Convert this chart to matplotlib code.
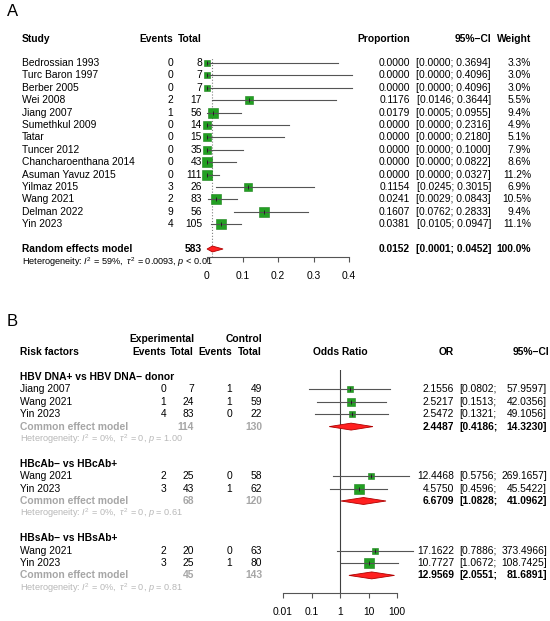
import numpy as np
import matplotlib
matplotlib.use("Agg")
import matplotlib.pyplot as plt
import matplotlib.transforms as mtransforms
from matplotlib.patches import Polygon
from matplotlib.ticker import NullLocator

plt.rcParams['font.family'] = ['Liberation Sans', 'DejaVu Sans']
plt.rcParams['mathtext.fontset'] = 'custom'
plt.rcParams['mathtext.rm'] = 'Liberation Sans'
plt.rcParams['mathtext.it'] = 'Liberation Sans:italic'
plt.rcParams['mathtext.bf'] = 'Liberation Sans:bold'

# ---------------------------------------------------------------
# data, panel A (single-arm proportions)
# ---------------------------------------------------------------
studies_a = ["Bedrossian 1993", "Turc Baron 1997", "Berber 2005", "Wei 2008",
             "Jiang 2007", "Sumethkul 2009", "Tatar", "Tuncer 2012",
             "Chancharoenthana 2014", "Asuman Yavuz 2015", "Yilmaz 2015",
             "Wang 2021", "Delman 2022", "Yin 2023"]
events_a = [0, 0, 0, 2, 1, 0, 0, 0, 0, 0, 3, 2, 9, 4]
totals_a = [8, 7, 7, 17, 56, 14, 15, 35, 43, 111, 26, 83, 56, 105]
prop_a = [0.0, 0.0, 0.0, 0.1176, 0.0179, 0.0, 0.0, 0.0, 0.0, 0.0,
          0.1154, 0.0241, 0.1607, 0.0381]
lo_a = [0.0, 0.0, 0.0, 0.0146, 0.0005, 0.0, 0.0, 0.0, 0.0, 0.0,
        0.0245, 0.0029, 0.0762, 0.0105]
hi_a = [0.3694, 0.4096, 0.4096, 0.3644, 0.0955, 0.2316, 0.2180, 0.1000,
        0.0822, 0.0327, 0.3015, 0.0843, 0.2833, 0.0947]
weight_a = [3.3, 3.0, 3.0, 5.5, 9.4, 4.9, 5.1, 7.9, 8.6, 11.2, 6.9, 10.5, 9.4, 11.1]
re_total = 583
re_est, re_lo, re_hi = 0.0152, 0.0001, 0.0452
het_a = r"Heterogeneity: $I^2$ = 59%,  $\tau^2$ = 0.0093, $p$ < 0.01"
ticks_a = [0, 0.1, 0.2, 0.3, 0.4]

# ---------------------------------------------------------------
# data, panel B (odds ratios by risk factor)
# ---------------------------------------------------------------
group_names = ["HBV DNA+ vs HBV DNA\u2212 donor", "HBcAb\u2212 vs HBcAb+",
               "HBsAb\u2212 vs HBsAb+"]
b_studies = [["Jiang 2007", "Wang 2021", "Yin 2023"],
             ["Wang 2021", "Yin 2023"],
             ["Wang 2021", "Yin 2023"]]
b_exp_events = [[0, 1, 4], [2, 3], [2, 3]]
b_exp_total = [[7, 24, 83], [25, 43], [20, 25]]
b_ctl_events = [[1, 1, 0], [0, 1], [0, 1]]
b_ctl_total = [[49, 59, 22], [58, 62], [63, 80]]
b_or = [[2.1556, 2.5217, 2.5472], [12.4468, 4.5750], [17.1622, 10.7727]]
b_lo = [[0.0802, 0.1513, 0.1321], [0.5756, 0.4596], [0.7886, 1.0672]]
b_hi = [[57.9597, 42.0356, 49.1056], [269.1657, 45.5422], [373.4966, 108.7425]]
pooled_or = [2.4487, 6.6709, 12.9569]
pooled_lo = [0.4186, 1.0828, 2.0551]
pooled_hi = [14.3230, 41.0962, 81.6891]
het_i2 = ["0%", "0%", "0%"]
het_tau2 = ["0", "0", "0"]
het_p = ["1.00", "0.61", "0.81"]
ticks_b = [0.01, 0.1, 1, 10, 100]
tick_labels_b = ["0.01", "0.1", "1", "10", "100"]

# ---------------------------------------------------------------
# layout (pixels of a 550 x 621 figure)
# ---------------------------------------------------------------
W, H = 550, 621
ROW = 12.4
FS = 7.4
FS_HET = 6.6
SQ_COL = '#22a022'
SQ_EDGE = '#1a801a'
LN_COL = '#555555'
GREY = '#a6a6a6'

fig = plt.figure(figsize=(W / 100, H / 100), dpi=100)


def add_ax(x0, x1, y0, y1):
    return fig.add_axes([x0 / W, 1 - y1 / H, (x1 - x0) / W, (y1 - y0) / H])


def fx(px):
    return px / W


def style_axis(ax):
    for s in ['top', 'left', 'right']:
        ax.spines[s].set_visible(False)
    ax.spines['bottom'].set_color(LN_COL)
    ax.spines['bottom'].set_linewidth(0.8)
    ax.set_yticks([])
    ax.tick_params(axis='x', length=3.6, width=0.8, color=LN_COL,
                   labelsize=FS, pad=6.5)
    ax.patch.set_alpha(0)


def diamond(ax, est, lo, hi, y, h):
    ax.add_patch(Polygon([(lo, y), (est, y - h), (hi, y), (est, y + h)],
                         closed=True, facecolor='#ff2020', edgecolor='#b00000',
                         linewidth=0.6, zorder=4, clip_on=False))


# ===============================================================
# panel A
# ===============================================================
rowA0 = 63
axA = add_ax(207, 349, 57, 257)
axA.set_xlim(0, 0.4)
axA.set_ylim((257 - rowA0) / ROW, (57 - rowA0) / ROW)
style_axis(axA)
axA.set_xticks(ticks_a)
axA.set_xticklabels(["0", "0.1", "0.2", "0.3", "0.4"])
trA = mtransforms.blended_transform_factory(fig.transFigure, axA.transData)

axA.axvline(re_est, color='#808080', linestyle=':', linewidth=0.8, zorder=1)

for i in range(len(studies_a)):
    side = 3.2 * np.sqrt(weight_a[i]) * 0.72
    axA.plot([lo_a[i], hi_a[i]], [i, i], color=LN_COL, linewidth=0.8,
             zorder=3, clip_on=False)
    axA.plot(prop_a[i], i, marker='s', markersize=side, color=SQ_COL,
             markeredgecolor=SQ_EDGE, markeredgewidth=0.4, zorder=2, clip_on=False)
    axA.plot(prop_a[i], i, marker='|', markersize=3.0, color='#222222',
             markeredgewidth=0.7, zorder=4, clip_on=False)
    axA.text(fx(22), i, studies_a[i], transform=trA, fontsize=FS, va='center')
    axA.text(fx(173), i, str(events_a[i]), transform=trA, fontsize=FS,
             va='center', ha='right')
    axA.text(fx(202), i, str(totals_a[i]), transform=trA, fontsize=FS,
             va='center', ha='right')
    axA.text(fx(410), i, "%.4f" % prop_a[i], transform=trA, fontsize=FS,
             va='center', ha='right')
    axA.text(fx(491), i, "[%.4f; %.4f]" % (lo_a[i], hi_a[i]), transform=trA,
             fontsize=FS, va='center', ha='right')
    axA.text(fx(531), i, "%.1f%%" % weight_a[i], transform=trA, fontsize=FS,
             va='center', ha='right')

# header
hA = (39 - rowA0) / ROW
for x, s, ha in [(22, "Study", 'left'), (173, "Events", 'right'),
                 (202, "Total", 'right'), (410, "Proportion", 'right'),
                 (491, "95%\u2212CI", 'right'), (531, "Weight", 'right')]:
    axA.text(fx(x), hA, s, transform=trA, fontsize=FS, fontweight='bold',
             va='center', ha=ha)

# pooled
yre = (249 - rowA0) / ROW
diamond(axA, re_est, re_lo, re_hi, yre, 0.24)
axA.text(fx(22), yre, "Random effects model", transform=trA, fontsize=FS,
         fontweight='bold', va='center')
axA.text(fx(202), yre, str(re_total), transform=trA, fontsize=FS,
         fontweight='bold', va='center', ha='right')
axA.text(fx(410), yre, "%.4f" % re_est, transform=trA, fontsize=FS,
         fontweight='bold', va='center', ha='right')
axA.text(fx(491), yre, "[%.4f; %.4f]" % (re_lo, re_hi), transform=trA,
         fontsize=FS, fontweight='bold', va='center', ha='right')
axA.text(fx(531), yre, "100.0%", transform=trA, fontsize=FS,
         fontweight='bold', va='center', ha='right')
axA.text(fx(22), (262 - rowA0) / ROW, het_a, transform=trA, fontsize=FS_HET,
         va='center')

fig.text(fx(7), 1 - 12 / H, "A", fontsize=12, va='center')

# ===============================================================
# panel B
# ===============================================================
rowB0 = 377
axB = add_ax(283, 397, 370, 593)
axB.set_xscale('log')
axB.set_xlim(0.01, 100)
axB.set_ylim((593 - rowB0) / ROW, (370 - rowB0) / ROW)
style_axis(axB)
axB.set_xticks(ticks_b)
axB.set_xticklabels(tick_labels_b)
axB.xaxis.set_minor_locator(NullLocator())
trB = mtransforms.blended_transform_factory(fig.transFigure, axB.transData)
axB.axvline(1, color='#404040', linewidth=0.8, zorder=1)

# header
h1 = (339 - rowB0) / ROW
h2 = (352 - rowB0) / ROW
axB.text(fx(194), h1, "Experimental", transform=trB, fontsize=FS,
         fontweight='bold', va='center', ha='right')
axB.text(fx(262), h1, "Control", transform=trB, fontsize=FS,
         fontweight='bold', va='center', ha='right')
for x, s, ha in [(20, "Risk factors", 'left'), (166, "Events", 'right'),
                 (194, "Total", 'right'), (232, "Events", 'right'),
                 (262, "Total", 'right'), (454, "OR", 'right'),
                 (549, "95%\u2212CI", 'right')]:
    axB.text(fx(x), h2, s, transform=trB, fontsize=FS, fontweight='bold',
             va='center', ha=ha)
axB.text(1, h2, "Odds Ratio", fontsize=FS, fontweight='bold', va='center',
         ha='center')

r = 0
for g in range(len(group_names)):
    axB.text(fx(20), r, group_names[g], transform=trB, fontsize=FS,
             fontweight='bold', va='center')
    n = len(b_studies[g])
    for k in range(n):
        y = r + 1 + k
        se = (np.log(b_hi[g][k]) - np.log(b_lo[g][k])) / 3.92
        w = 1.0 / se ** 2
        side = 14.5 * w * 0.72
        axB.plot([b_lo[g][k], b_hi[g][k]], [y, y], color=LN_COL,
                 linewidth=0.8, zorder=3, clip_on=False)
        axB.plot(b_or[g][k], y, marker='s', markersize=side, color=SQ_COL,
                 markeredgecolor=SQ_EDGE, markeredgewidth=0.4, zorder=2,
                 clip_on=False)
        axB.plot(b_or[g][k], y, marker='|', markersize=3.0, color='#222222',
                 markeredgewidth=0.7, zorder=4, clip_on=False)
        axB.text(fx(20), y, b_studies[g][k], transform=trB, fontsize=FS,
                 va='center')
        for x, v in [(166, b_exp_events[g][k]), (194, b_exp_total[g][k]),
                     (232, b_ctl_events[g][k]), (262, b_ctl_total[g][k])]:
            axB.text(fx(x), y, str(v), transform=trB, fontsize=FS,
                     va='center', ha='right')
        axB.text(fx(454), y, "%.4f" % b_or[g][k], transform=trB, fontsize=FS,
                 va='center', ha='right')
        axB.text(fx(459), y, "[%.4f;" % b_lo[g][k], transform=trB,
                 fontsize=FS, va='center', ha='left')
        axB.text(fx(547), y, "%.4f]" % b_hi[g][k], transform=trB,
                 fontsize=FS, va='center', ha='right')
    # common effect model
    yc = r + 1 + n
    diamond(axB, pooled_or[g], pooled_lo[g], pooled_hi[g], yc, 0.28)
    axB.text(fx(20), yc, "Common effect model", transform=trB, fontsize=FS,
             fontweight='bold', color=GREY, va='center')
    axB.text(fx(194), yc, str(sum(b_exp_total[g])), transform=trB,
             fontsize=FS, fontweight='bold', color=GREY, va='center', ha='right')
    axB.text(fx(262), yc, str(sum(b_ctl_total[g])), transform=trB,
             fontsize=FS, fontweight='bold', color=GREY, va='center', ha='right')
    axB.text(fx(454), yc, "%.4f" % pooled_or[g], transform=trB, fontsize=FS,
             fontweight='bold', va='center', ha='right')
    axB.text(fx(459), yc, "[%.4f;" % pooled_lo[g], transform=trB,
             fontsize=FS, fontweight='bold', va='center', ha='left')
    axB.text(fx(547), yc, "%.4f]" % pooled_hi[g], transform=trB,
             fontsize=FS, fontweight='bold', va='center', ha='right')
    het = (r"Heterogeneity: $I^2$ = %s,  $\tau^2$ = %s, $p$ = %s"
           % (het_i2[g], het_tau2[g], het_p[g]))
    axB.text(fx(20), yc + 1, het, transform=trB, fontsize=FS_HET, color='#b8b8b8',
             va='center')
    r = r + 4 + n

fig.text(fx(7), 1 - 322 / H, "B", fontsize=12, va='center')

fig.savefig("out.png", dpi=100)
